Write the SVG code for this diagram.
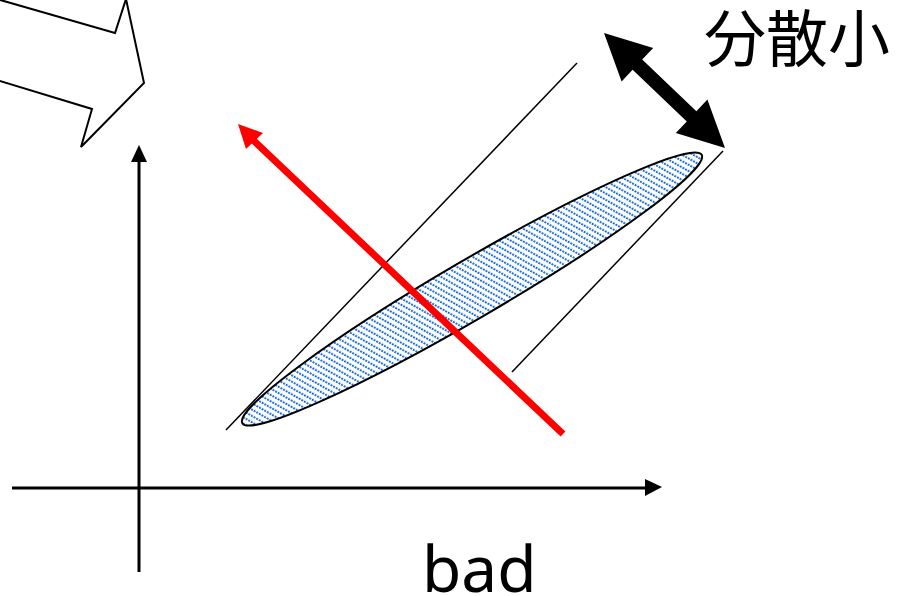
<svg xmlns="http://www.w3.org/2000/svg" width="911" height="596" viewBox="0 0 911 596">
<style>
.thin{stroke:#000;stroke-width:1.5;fill:none}
.axis{stroke:#000;stroke-width:3;fill:none}
.lbl{font-family:"Noto Sans","DejaVu Sans","Noto Sans CJK JP",sans-serif;fill:#000}
</style>
<defs>
<pattern id="hatch" width="5.5" height="3" patternUnits="userSpaceOnUse" patternTransform="rotate(-30)">
<rect width="5.5" height="3" fill="#fff"/>
<rect x="0" y="0" width="2" height="1.8" fill="#0a62d0"/>
</pattern>
</defs>
<rect width="911" height="596" fill="#fff"/>
<g id="block-arrow">
<polygon points="-10,-3 115,33 126,-1 144,83 81,147 92,109 -10,78" fill="#fff" stroke="#000" stroke-width="2" stroke-linejoin="miter"/>
</g>
<g id="axes">
<line class="axis" x1="139" y1="572" x2="139" y2="158"/>
<polygon points="139,145 131,162 147,162" fill="#000"/>
<line class="axis" x1="12" y1="488" x2="648" y2="488"/>
<polygon points="662,487 645,479 645,496" fill="#000"/>
</g>
<g id="ellipse">
<ellipse cx="472" cy="289" rx="266" ry="29" transform="rotate(-30.3 472 289)" fill="url(#hatch)" stroke="#000" stroke-width="2"/>
</g>
<g id="connectors">
<line class="thin" x1="226" y1="430" x2="577" y2="63"/>
<line class="thin" x1="512" y1="372" x2="723" y2="151"/>
<polygon points="604,33 653.2,48 642.2,59.6 696.4,111.2 707.4,99.6 725,148 675.8,133 686.8,121.4 632.6,69.8 621.6,81.4" fill="#000"/>
<line x1="563" y1="434" x2="252" y2="139" stroke="#ff0000" stroke-width="7"/>
<polygon points="238,124 263,133 246,149" fill="#ff0000"/>
</g>
<g id="label-small-variance">
<text class="lbl" x="704" y="62" font-size="62">分散小</text>
</g>
<g id="label-bad">
<text class="lbl" x="422" y="592" font-size="64">bad</text>
</g>
</svg>
